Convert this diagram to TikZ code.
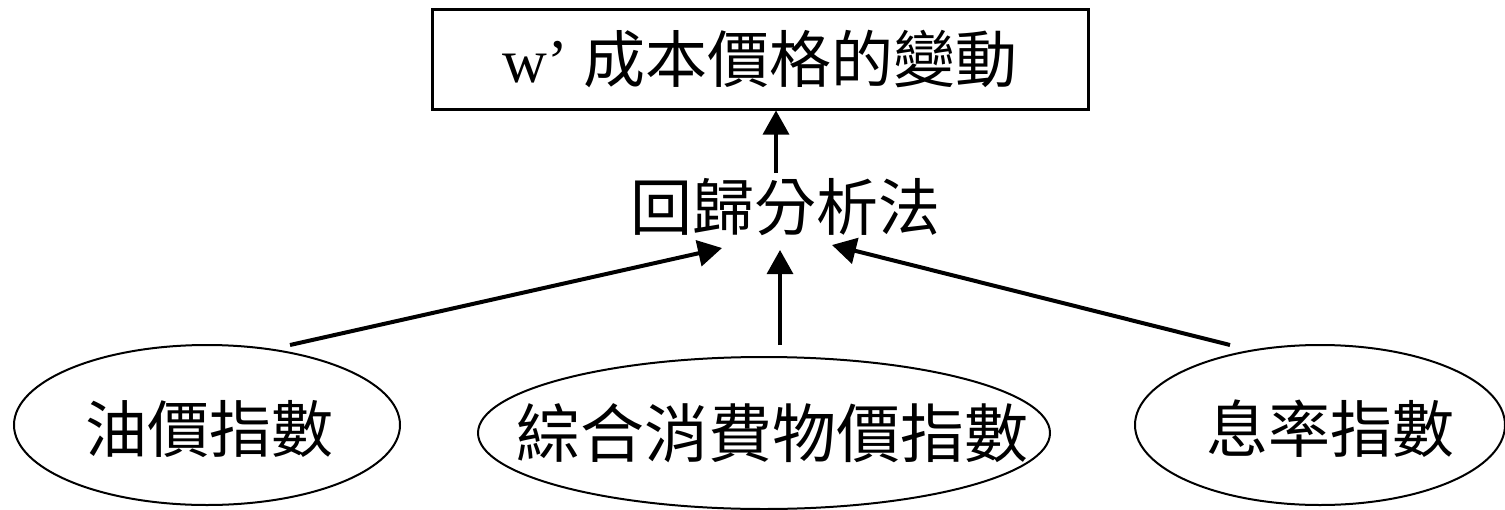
\documentclass[tikz,border=0pt]{standalone}
\usepackage{fontspec}
\setmainfont{Liberation Serif}
\newfontfamily\cjk{Noto Sans CJK TC}
\usetikzlibrary{shapes.geometric,arrows.meta,calc}
\tikzset{
  bigtext/.style={font=\cjk\fontsize{31}{36}\selectfont},
  oval/.style={ellipse, draw, line width=1pt, inner sep=0pt},
  conn/.style={line width=2pt, -{Triangle[length=12pt,width=13pt]}},
  thinconn/.style={line width=1.6pt, -{Triangle[length=12pt,width=13pt]}},
}
\begin{document}
\begin{tikzpicture}[x=0.5pt,y=-0.5pt]
\useasboundingbox (0,0) rectangle (1505,509);
\node[draw, line width=1.5pt, minimum width=328pt, minimum height=50pt, inner sep=0pt,
      bigtext] (box) at (760,59) {{\fontspec{Liberation Serif}w’ }成本價格的變動};
\node[bigtext, inner sep=0pt] (reg) at (785,207) {回歸分析法};
\node[oval, minimum width=193pt, minimum height=80pt,
      label={[bigtext, xshift=1pt, yshift=-2pt]center:油價指數}] (oil) at (207,425) {};
\node[oval, minimum width=286pt, minimum height=76pt,
      label={[font=\cjk\fontsize{32}{36}\selectfont, xshift=4pt]center:綜合消費物價指數}] (cpi) at (764,433) {};
\node[oval, minimum width=185pt, minimum height=80pt,
      label={[bigtext, xshift=5pt, yshift=-2pt]center:息率指數}] (rate) at (1320,425) {};
\draw[thinconn] ($(reg.center)+(-9,-34)$) -- ($(box.south)+(16,0)$);
\draw[conn] ($(oil.center)+(83,-80)$) -- ($(reg.center)+(-63,41)$);
\draw[thinconn] ($(cpi.center)+(16,-88)$) -- ($(reg.center)+(-5,43)$);
\draw[conn] ($(rate.center)+(-90,-80)$) -- ($(reg.center)+(47,38)$);
\end{tikzpicture}
\end{document}
